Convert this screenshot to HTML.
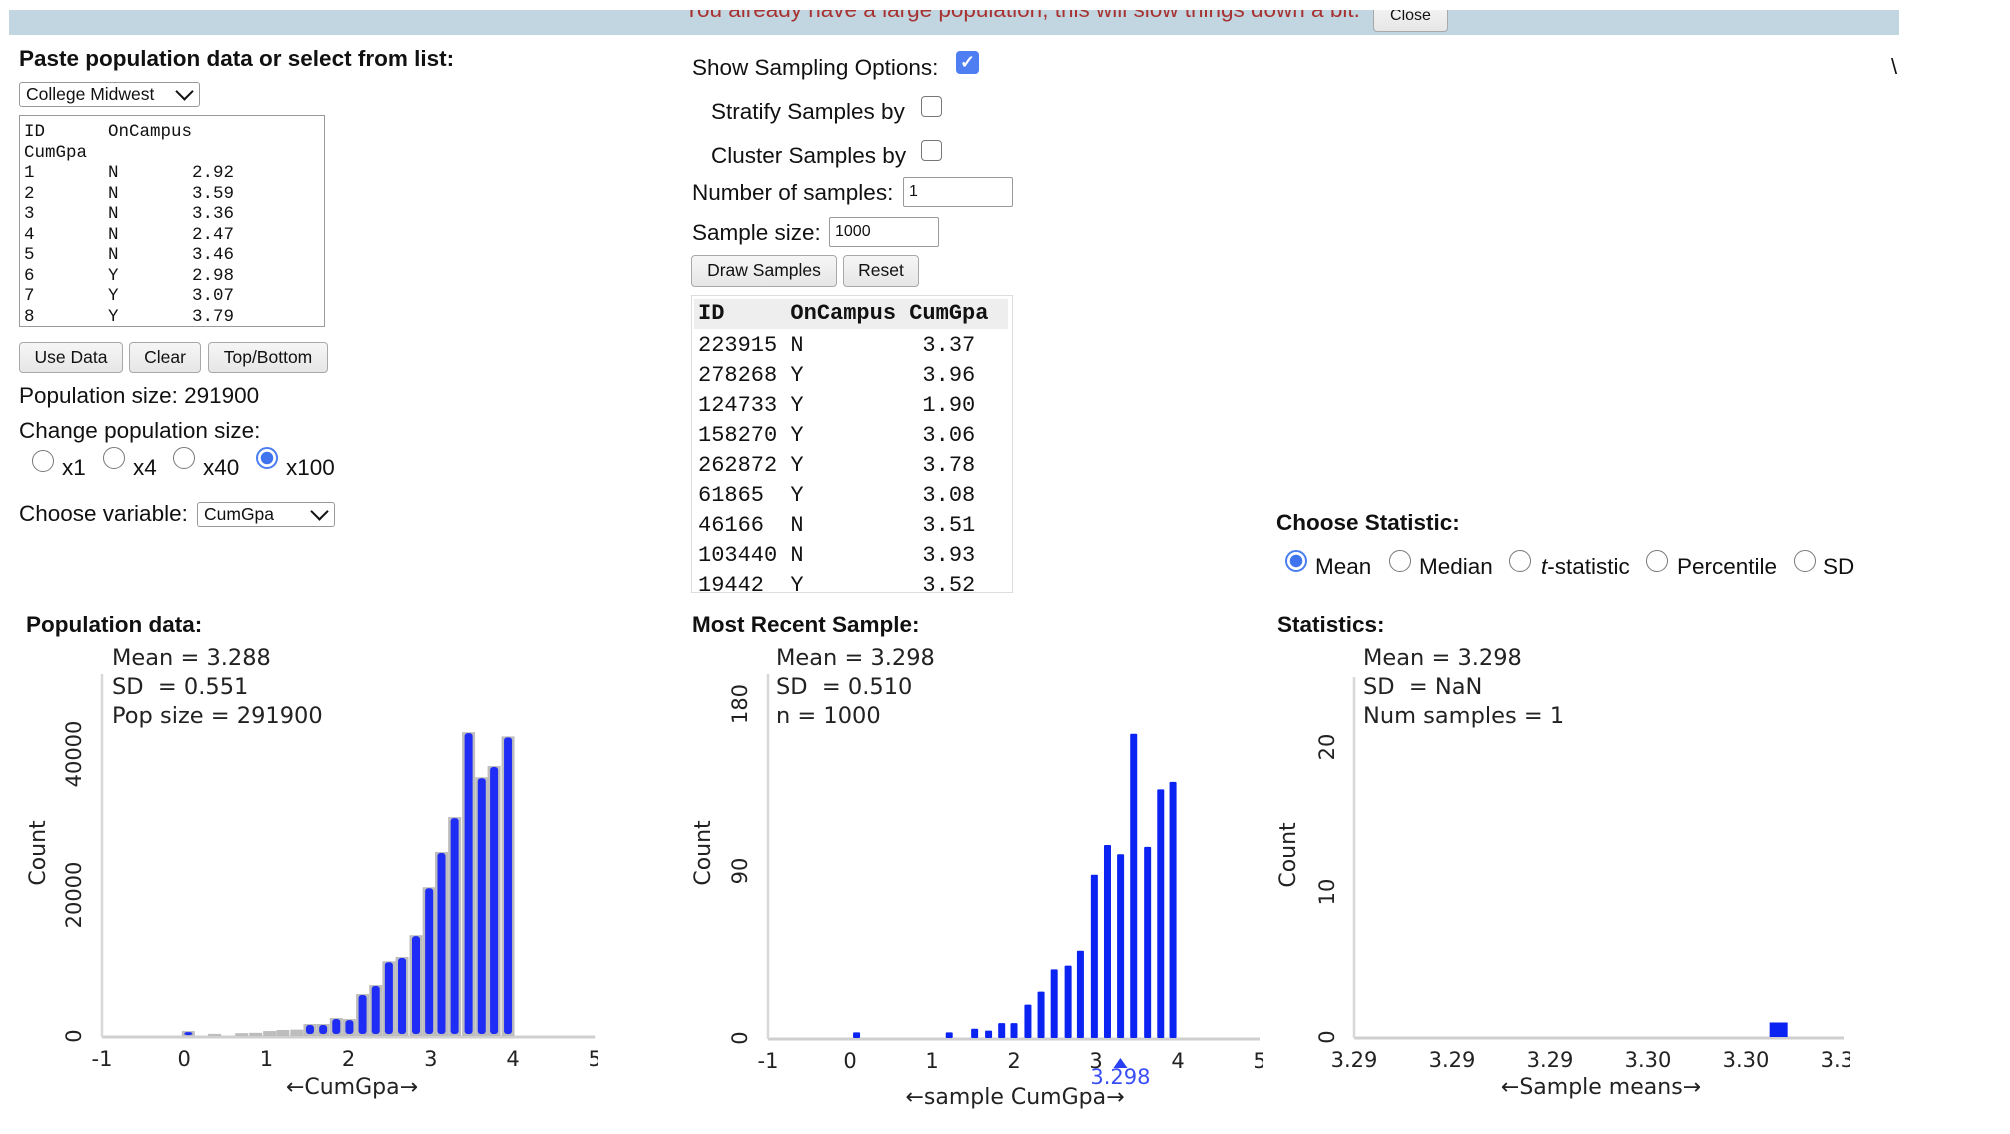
<!DOCTYPE html>
<html><head><meta charset="utf-8">
<style>
body{margin:0;width:2010px;height:1134px;background:#fff;position:relative;overflow:hidden;font-family:"Liberation Sans",Arial,sans-serif;color:#111}
.a{position:absolute;white-space:nowrap}
.t{font-size:22.5px;line-height:25px}
.b{font-weight:bold}
.btn{position:absolute;box-sizing:border-box;border:1.5px solid #a8a8a8;border-radius:4px;background:linear-gradient(#f6f6f6,#e6e6e6);font-size:17.5px;text-align:center;color:#111}
.sel{position:absolute;box-sizing:border-box;border:1.5px solid #999;border-radius:3px;background:#fff;font-size:17.5px;padding-left:6px}
.sel span.ch{position:absolute;right:8px;width:11px;height:11px;border-right:2.5px solid #111;border-bottom:2.5px solid #111;transform:rotate(45deg);top:2px}
.inp{position:absolute;box-sizing:border-box;border:1.5px solid #999;border-radius:2px;background:#fff;font-size:16px;padding-left:5px}
.radio{position:absolute;box-sizing:border-box;width:22px;height:22px;border-radius:50%;border:1.5px solid #777;background:#fff}
.radio.on{border:2px solid #4a7ef0;background:radial-gradient(circle,#3f74ee 0 6px,#fff 6.5px)}
.cb{position:absolute;box-sizing:border-box;width:21px;height:21px;border:1.5px solid #777;border-radius:4px;background:#fff}
.mono{font-family:"Liberation Mono","DejaVu Sans Mono",monospace}
svg text{font-family:"DejaVu Sans",Verdana,sans-serif}
</style></head><body>

<div class="a" style="left:9px;top:10px;width:1890px;height:25px;background:#c1d6e0;overflow:hidden">
  <div class="a" style="left:675px;top:-13px;font-size:22.5px;color:#a83232">You already have a large population, this will slow things down a bit.</div>
  <div class="btn" style="left:1364px;top:-8px;width:75px;height:30px;font-size:16px;line-height:26px">Close</div>
</div>
<div class="a" style="left:1891px;top:54px;font-size:22px">\</div>

<!-- Left column -->
<div class="a t b" style="left:19px;top:46px">Paste population data or select from list:</div>
<div class="sel" style="left:19px;top:82px;width:181px;height:25px;line-height:22px">College Midwest<span class="ch"></span></div>
<div class="a mono" style="left:19px;top:115px;width:306px;height:212px;box-sizing:border-box;border:1.5px solid #999;font-size:17.5px;line-height:20.5px;padding:6px 4px;overflow:hidden;white-space:pre">ID      OnCampus
CumGpa
1       N       2.92
2       N       3.59
3       N       3.36
4       N       2.47
5       N       3.46
6       Y       2.98
7       Y       3.07
8       Y       3.79</div>
<div class="btn" style="left:19px;top:342px;width:104px;height:31px;line-height:28px">Use Data</div>
<div class="btn" style="left:129px;top:342px;width:72px;height:31px;line-height:28px">Clear</div>
<div class="btn" style="left:208px;top:342px;width:120px;height:31px;line-height:28px">Top/Bottom</div>
<div class="a t" style="left:19px;top:383px">Population size: 291900</div>
<div class="a t" style="left:19px;top:418px">Change population size:</div>
<div class="radio" style="left:32px;top:450px"></div>
<div class="a t" style="left:62px;top:455px">x1</div>
<div class="radio" style="left:103px;top:447px"></div>
<div class="a t" style="left:133px;top:455px">x4</div>
<div class="radio" style="left:173px;top:447px"></div>
<div class="a t" style="left:203px;top:455px">x40</div>
<div class="radio on" style="left:256px;top:447px"></div>
<div class="a t" style="left:286px;top:455px">x100</div>
<div class="a t" style="left:19px;top:501px">Choose variable:</div>
<div class="sel" style="left:197px;top:502px;width:138px;height:25px;line-height:22px">CumGpa<span class="ch"></span></div>

<!-- Middle column -->
<div class="a t" style="left:692px;top:55px">Show Sampling Options:</div>
<div class="cb" style="left:956px;top:51px;width:23px;height:23px;border:none;background:#4f7ef2;color:#fff;font-size:18px;text-align:center;line-height:23px;font-weight:bold">✓</div>
<div class="a t" style="left:711px;top:99px">Stratify Samples by</div>
<div class="cb" style="left:921px;top:96px"></div>
<div class="a t" style="left:711px;top:143px">Cluster Samples by</div>
<div class="cb" style="left:921px;top:140px"></div>
<div class="a t" style="left:692px;top:180px">Number of samples:</div>
<div class="inp" style="left:903px;top:177px;width:110px;height:30px;line-height:27px">1</div>
<div class="a t" style="left:692px;top:220px">Sample size:</div>
<div class="inp" style="left:829px;top:217px;width:110px;height:30px;line-height:27px">1000</div>
<div class="btn" style="left:691px;top:255px;width:146px;height:32px;line-height:29px">Draw Samples</div>
<div class="btn" style="left:843px;top:255px;width:76px;height:32px;line-height:29px">Reset</div>
<div class="a mono" style="left:691px;top:295px;width:322px;height:298px;box-sizing:border-box;border:1.5px solid #ddd;overflow:hidden;font-size:22px;line-height:30px">
  <div style="position:absolute;left:2px;top:3px;width:314px;height:30px;background:#eee;font-weight:bold;white-space:pre;padding-left:4px;box-sizing:border-box">ID     OnCampus CumGpa</div>
  <div style="position:absolute;left:6px;top:35px;white-space:pre">223915 N         3.37
278268 Y         3.96
124733 Y         1.90
158270 Y         3.06
262872 Y         3.78
61865  Y         3.08
46166  N         3.51
103440 N         3.93
19442  Y         3.52</div>
</div>

<!-- Right column -->
<div class="a t b" style="left:1276px;top:510px">Choose Statistic:</div>
<div class="radio on" style="left:1285px;top:550px"></div>
<div class="a t" style="left:1315px;top:554px">Mean</div>
<div class="radio" style="left:1389px;top:550px"></div>
<div class="a t" style="left:1419px;top:554px">Median</div>
<div class="radio" style="left:1509px;top:550px"></div>
<div class="a t" style="left:1541px;top:554px"><i>t</i>-statistic</div>
<div class="radio" style="left:1646px;top:550px"></div>
<div class="a t" style="left:1677px;top:554px">Percentile</div>
<div class="radio" style="left:1794px;top:550px"></div>
<div class="a t" style="left:1823px;top:554px">SD</div>

<div class="a t b" style="left:26px;top:612px">Population data:</div>
<div class="a t b" style="left:692px;top:612px">Most Recent Sample:</div>
<div class="a t b" style="left:1277px;top:612px">Statistics:</div>

<svg id="c1" style="position:absolute;left:0;top:630px" width="598" height="504" viewBox="0 630 598 504"></svg>
<svg id="c2" style="position:absolute;left:690px;top:630px" width="573" height="504" viewBox="690 630 573 504"></svg>
<svg id="c3" style="position:absolute;left:1270px;top:630px" width="580" height="504" viewBox="1270 630 580 504"></svg>

<script>
// Population histogram data
const popBins = [0.05,0.37,0.70,0.87,1.04,1.20,1.37,1.53,1.69,1.85,2.01,2.17,2.33,2.49,2.65,2.82,2.98,3.13,3.29,3.46,3.62,3.77,3.94];
const popCounts = [700,300,400,450,700,850,900,1700,1700,2550,2400,5950,7230,10600,11200,14300,21100,26100,31050,43100,36700,38300,42500];
const popXTicks = [-1,0,1,2,3,4,5];
const popYTicks = [0,20000,40000];
const popStats = ["Mean = 3.288","SD  = 0.551","Pop size = 291900"];
// Sample histogram data
const sampBins = [0.08,1.21,1.52,1.69,1.85,2.00,2.17,2.33,2.49,2.66,2.81,2.98,3.14,3.30,3.46,3.63,3.79,3.94];
const sampCounts = [3,3,5,4,8,8,18,25,37,39,47,88,104,99,164,103,134,138];
const sampXTicks = [-1,0,1,2,3,4,5];
const sampYTicks = [0,90,180];
const sampStats = ["Mean = 3.298","SD  = 0.510","n = 1000"];
const sampMean = 3.298;
// Statistics (sample means) data
const statMeans = [3.298];
const statCounts = [1];
const statXTicks = [3.2915,3.2930,3.2945,3.2960,3.2975,3.2990];
const statYTicks = [0,10,20];
const statStats = ["Mean = 3.298","SD  = NaN","Num samples = 1"];

const NS="http://www.w3.org/2000/svg";
function mk(svg,tag,attrs,txt){const e=document.createElementNS(NS,tag);for(const k in attrs)e.setAttribute(k,attrs[k]);if(txt!==undefined)e.textContent=txt;svg.appendChild(e);return e;}

function axes(svg,o){
  const ax=mk(svg,'line',{x1:o.x(o.xmin),x2:o.x(o.xmax),y1:o.base,y2:o.base,stroke:'#cfcfcf','stroke-width':3});
  
  
  const ay=mk(svg,'line',{x1:o.x(o.xmin),x2:o.x(o.xmin),y1:o.base,y2:o.ytop,stroke:'#d8d8d8','stroke-width':2.5});
  
  
  o.xt.forEach(v=>{
    const t=mk(svg,'text',{x:o.x(v),y:o.base+29,'text-anchor':'middle','font-size':21,fill:'#222'},o.fmt(v));
    
    
  });
  o.yt.forEach(v=>{
    const yy=o.y(v);
    const t=mk(svg,'text',{x:o.ylx,y:yy,'text-anchor':'middle','font-size':21,fill:'#222',transform:`rotate(-90 ${o.ylx} ${yy})`,dy:7},String(v));
    
    
  });
  const cy=o.cy;
  const c=mk(svg,'text',{x:o.cx,y:cy,'text-anchor':'middle','font-size':22,fill:'#222',transform:`rotate(-90 ${o.cx} ${cy})`,dy:7},'Count');
  
  
  const xt=mk(svg,'text',{x:o.tx,y:o.ty,'text-anchor':'middle','font-size':22,fill:'#222'},o.title);
  
  
  o.stats.forEach((s,i)=>{
    const st=mk(svg,'text',{x:o.sx,y:665+i*29,'font-size':22.5,fill:'#222','xml:space':'preserve'},s);
    st.setAttribute('style','white-space:pre');
    
    
  });
}

// Chart 1
(function(){
  const svg=document.getElementById('c1');
  const x=v=>102+(v+1)*82.2, y=c=>1036-c/40000*282;
  axes(svg,{x,y,xmin:-1,xmax:5,base:1037,ytop:674,xt:popXTicks,yt:popYTicks,fmt:v=>String(v),ylx:74,cx:38,cy:853,tx:352,ty:1094,title:'←CumGpa→',stats:popStats,sx:112});
  popBins.forEach((b,i)=>{
    const top=y(popCounts[i]),h=1036-top;
    const g=mk(svg,'rect',{x:x(b)-6.5,y:top,width:13,height:h,fill:'#bdbdbd'});
    
    
    if(popCounts[i]>1000||i===0){
      const r=mk(svg,'rect',{x:x(b)-4,y:top+1,width:8,height:Math.max(h-3,3),fill:'#1f2cf5',rx:3});
      
      
    }
  });
})();

// Chart 2
(function(){
  const svg=document.getElementById('c2');
  const x=v=>768+(v+1)*82, y=c=>1038-c/90*167;
  axes(svg,{x,y,xmin:-1,xmax:5,base:1039,ytop:674,xt:sampXTicks,yt:sampYTicks,fmt:v=>String(v),ylx:740,cx:703,cy:853,tx:1015,ty:1104,title:'←sample CumGpa→',stats:sampStats,sx:776});
  sampBins.forEach((b,i)=>{
    const top=y(sampCounts[i]);
    const r=mk(svg,'rect',{x:x(b)-3.5,y:top,width:7,height:1038-top,fill:'#0a22f2',rx:1});
    
    
  });
  const mx=x(sampMean);
  const ar=mk(svg,'path',{d:`M${mx-7} 1068 L${mx} 1058 L${mx+7} 1068 Z`,fill:'#2a40f5'});
  
  
  const mt=mk(svg,'text',{x:mx,y:1084,'text-anchor':'middle','font-size':21,fill:'#3a4ef5'},sampMean.toFixed(3));
  
  
})();

// Chart 3
(function(){
  const svg=document.getElementById('c3');
  const x=v=>1354+(v-3.2915)/0.0075*490, y=c=>1037-c*14.5;
  axes(svg,{x,y,xmin:3.2915,xmax:3.2990,base:1038,ytop:677,xt:statXTicks,yt:statYTicks,fmt:v=>v.toFixed(2),ylx:1327,cx:1288,cy:855,tx:1601,ty:1094,title:'←Sample means→',stats:statStats,sx:1363});
  statMeans.forEach((m,i)=>{
    const top=y(statCounts[i]);
    const r=mk(svg,'rect',{x:x(m)-9,y:top,width:18,height:1037-top,fill:'#0a22f2'});
    
    
  });
})();
</script>
</body></html>
